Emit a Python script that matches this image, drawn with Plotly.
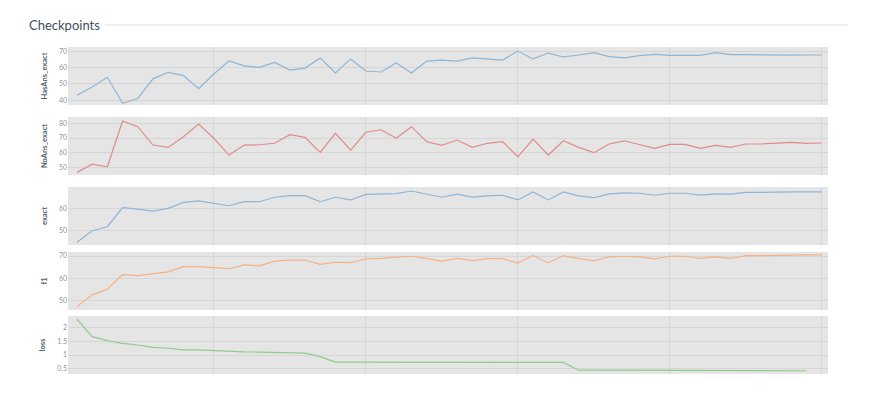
import plotly.graph_objects as go

steps = list(range(1, 51))
has_ans_exact = [43, 48, 54, 38, 41, 53, 57, 55, 47, 56, 64, 61, 60, 63, 58.4, 59.6, 65.8, 56.6, 65.2, 57.8,
                 57.2, 62.7, 56.6, 63.9, 64.5, 63.9, 65.8, 65.2, 64.5, 70, 65.2, 68.8, 66.4, 67.6, 69, 66.6,
                 65.8, 67.2, 68, 67.4, 67.4, 67.4, 69, 67.8, 67.8, 67.6, 67.5, 67.5, 67.6, 67.6]
no_ans_exact = [46.6, 52.2, 50.4, 81.6, 77.7, 65.2, 63.6, 70.9, 79.5, 69.8, 58.4, 65.2, 65.4, 66.4, 72.3, 70.4,
                60.2, 73.2, 61.8, 73.9, 75.6, 69.8, 77.7, 67.5, 65, 68.6, 63.6, 66.4, 67.5, 57.2, 69.3, 58.4,
                68.1, 63.6, 60, 65.9, 68.1, 65.7, 63, 65.7, 65.7, 63, 65, 63.6, 65.9, 65.9, 66.4, 67, 66.4, 66.6]
exact = [44.8, 50, 51.8, 60.3, 59.7, 58.8, 60, 62.7, 63.4, 62.3, 61.2, 63, 63, 65, 65.7, 65.7, 63, 65, 63.8,
         66.3, 66.6, 66.6, 67.8, 66.3, 65, 66.4, 65.1, 65.6, 65.9, 63.8, 67.4, 63.8, 67.4, 65.6, 64.8, 66.5,
         67, 66.8, 65.9, 66.8, 66.8, 66, 66.5, 66.4, 67.2, 67.2, 67.4, 67.4, 67.4, 67.4]
f1 = [47.3, 52.6, 55.2, 61.7, 61.2, 62, 62.9, 65.2, 65.2, 64.8, 64.3, 66, 65.6, 67.7, 68.2, 68.2, 66.3, 67.2,
      67, 68.7, 68.9, 69.5, 69.9, 68.8, 67.7, 68.9, 67.9, 68.8, 68.8, 66.8, 70.2, 67, 70.2, 68.8, 67.8, 69.6,
      69.9, 69.6, 68.7, 69.9, 69.9, 68.9, 69.6, 68.9, 70.2, 70.2, 70.4, 70.5, 70.5, 70.5]
loss = [2.32, 1.68, 1.53, 1.43, 1.37, 1.28, 1.25, 1.19, 1.19, 1.16, 1.14, 1.12, 1.11, 1.1, 1.1, 1.07, 0.94,
        0.74, 0.74, 0.74, 0.74, 0.74, 0.73, 0.73, 0.73, 0.73, 0.73, 0.72, 0.72, 0.73, 0.73, 0.73, 0.73, 0.44,
        0.44, 0.44, 0.43, 0.43, 0.43, 0.43, 0.43, 0.43, 0.42, 0.42, 0.42, 0.42, 0.42, 0.42, 0.42]

panels = [
    ("HasAns_exact", has_ans_exact, "#8db6d6", [37, 72.5], [40, 50, 60, 70], (47, 105)),
    ("NoAns_exact", no_ans_exact, "#e08c8c", [44.8, 84.3], [50, 60, 70, 80], (117, 175)),
    ("exact", exact, "#8db6d6", [43.6, 69.6], [50, 60], (187, 245)),
    ("f1", f1, "#f4b183", [45.8, 71.8], [50, 60, 70], (252, 310)),
    ("loss", loss, "#8fcc8c", [0.3, 2.44], [0.5, 1, 1.5, 2], (316, 374)),
]

W, H = 870, 402
dx, dy = -8, -8  # page offset correction
fig = go.Figure()
for i, (name, vals, color, yr, tv, (top, bot)) in enumerate(panels):
    n = "" if i == 0 else str(i + 1)
    fig.add_trace(go.Scatter(x=steps[:len(vals)], y=vals, mode="lines", line=dict(color=color, width=1.2),
                             xaxis="x" + n, yaxis="y" + n, showlegend=False))
    fig.layout["xaxis" + n] = dict(domain=[(68 + dx) / W, (828 + dx) / W], range=[0.41, 50.4], anchor="y" + n,
                                   showticklabels=False, tickvals=[10, 20, 30, 40, 50],
                                   gridcolor="#d6d6d6", zeroline=False)
    fig.layout["yaxis" + n] = dict(domain=[1 - (bot + dy) / H, 1 - (top + dy) / H], range=yr, anchor="x" + n,
                                   tickvals=tv, tickfont=dict(size=7, color="#8a96a0"),
                                   gridcolor="#d6d6d6", zeroline=False,
                                   title=dict(text="<b>" + name + "</b>", font=dict(size=7.5, color="#55626e"),
                                              standoff=10))

fig.add_annotation(text="Checkpoints", x=(27 + dx) / W, y=1 - (25 + dy) / H, xref="paper", yref="paper",
                   xanchor="left", yanchor="middle", showarrow=False,
                   font=dict(size=13, color="#3d5060", family="Lato"))
fig.add_shape(type="line", xref="paper", yref="paper", x0=(105 + dx) / W, x1=(848 + dx) / W,
              y0=1 - (25 + dy) / H, y1=1 - (25 + dy) / H, line=dict(color="#dde2e6", width=1))

fig.update_layout(width=W, height=H, margin=dict(l=0, r=0, t=0, b=0),
                  plot_bgcolor="#e5e5e5", paper_bgcolor="white",
                  font=dict(family="Lato"))
fig.write_html("out.html")
